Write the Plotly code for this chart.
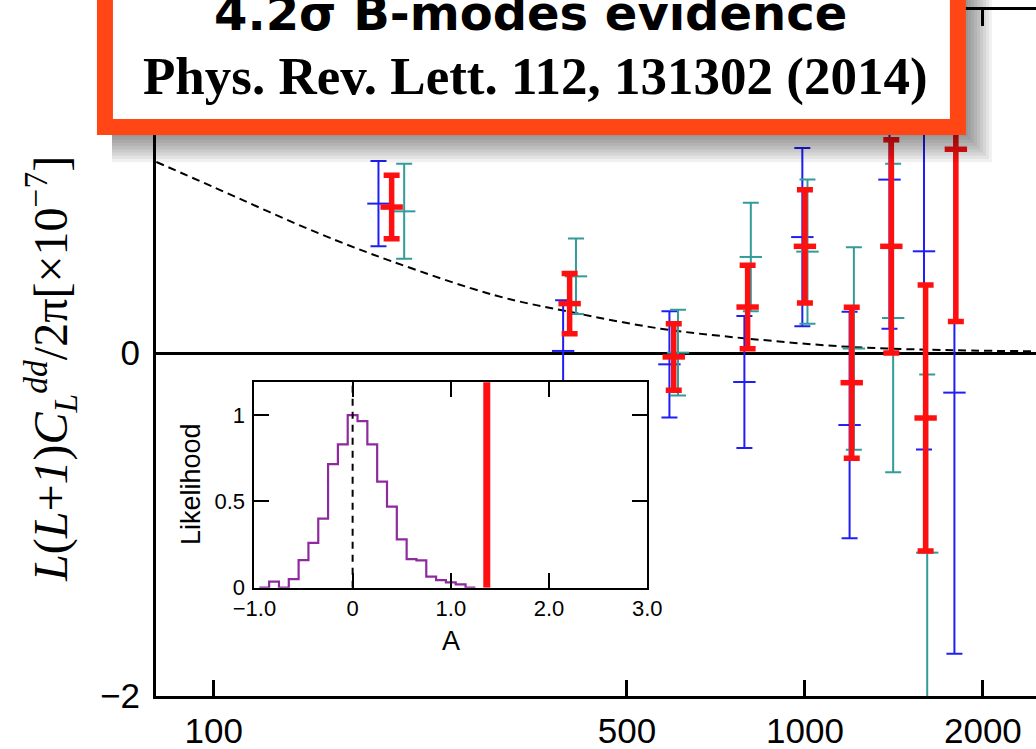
import plotly.graph_objects as go

# ---------------- data ----------------
bin_L = [200, 400, 600, 800, 1000, 1200, 1400, 1600, 1800]

blue_val = [0.871, 0.012, -0.066, -0.169, 0.676, -0.420, 1.011, 0.593, -0.231]
blue_err = [0.249, 0.295, 0.310, 0.385, 0.520, 0.660, 0.869, 1.155, 1.522]

red_val = [0.851, 0.288, -0.023, 0.268, 0.622, -0.173, 0.622, -0.379, 1.188]
red_err = [0.185, 0.176, 0.194, 0.243, 0.330, 0.440, 0.622, 0.775, 1.005]

teal_val = [0.826, 0.447, 0.002, 0.560, 0.591, 0.026, 0.204, -1.164, None]
teal_err = [0.277, 0.220, 0.250, 0.316, 0.420, 0.590, 0.900, 1.038, None]

theory_L = [80, 100, 150, 200, 300, 400, 570, 800, 1200, 1800, 2500]
theory_val = [1.114, 0.967, 0.700, 0.535, 0.335, 0.240, 0.142, 0.084, 0.035, 0.016, 0.010]

hist_A = [-0.9, -0.8, -0.7, -0.6, -0.5, -0.4, -0.3, -0.2, -0.1, 0.0, 0.1, 0.2,
          0.3, 0.4, 0.5, 0.6, 0.7, 0.8, 0.9, 1.0, 1.1, 1.2]
hist_like = [0.0, 0.035, 0.0, 0.05, 0.16, 0.26, 0.40, 0.716, 0.83, 1.0, 0.965, 0.83,
             0.614, 0.469, 0.28, 0.166, 0.158, 0.064, 0.044, 0.031, 0.019, 0.0]
measured_A = 1.366

x_ticks = [100, 500, 1000, 2000]
y_ticks = [-2, 0, 2]
inset_x_ticks = [-1.0, 0.0, 1.0, 2.0, 3.0]
inset_x_text = ["\u22121.0", "0", "1.0", "2.0", "3.0"]
inset_y_ticks = [0, 0.5, 1]
inset_y_text = ["0", "0.5", "1"]

title1 = "4.2\u03c3 B-modes evidence"
title2 = "Phys. Rev. Lett. 112, 131302 (2014)"

# ---------------- layout geometry (page body margin removed by post_script) ----------------
# The plot area continues past the right edge of the window, as in the reference.
W, H = 1052, 749
ML, MT = 156, 10
PLOT_BOTTOM = 696
MB = H - PLOT_BOTTOM
MR = 0
PW = 880          # effective plot-area width observed in the browser
PH = H - MT - MB
X_LEFT_LOG = 1.9025
DECADE_PX = 590.6
X_RIGHT_LOG = X_LEFT_LOG + PW / DECADE_PX


def px2x(px):
    return (px - ML) / PW


def py2y(py):
    return (PLOT_BOTTOM - py) / PH


BLUE = "#1F1FF5"
TEAL = "#339C99"
RED = "#FF1010"
PURPLE = "#8E2A9E"
ORANGE = "#FF4614"

fig = go.Figure()

# theory curve
fig.add_trace(go.Scatter(x=theory_L, y=theory_val, mode="lines",
                         line=dict(color="black", width=2, dash="8px,5px", shape="spline"),
                         hoverinfo="skip", showlegend=False))


def err_trace(xs, ys, es, color, lw):
    return go.Scatter(
        x=xs, y=ys, mode="markers",
        marker=dict(symbol="line-ew", size=16, color=color, line=dict(color=color, width=lw)),
        error_y=dict(type="data", array=es, visible=True, color=color, thickness=lw, width=8),
        showlegend=False, hoverinfo="skip")


fig.add_trace(err_trace([l - 10 for l in bin_L], blue_val, blue_err, BLUE, 2))
fig.add_trace(err_trace([l + 10 for l in bin_L], teal_val, teal_err, TEAL, 2))
fig.add_trace(err_trace(bin_L, red_val, red_err, RED, 5.5))

# inset histogram (step outline)
step_x = [a - 0.05 for a in hist_A] + [hist_A[-1] + 0.05]
step_y = hist_like + [0.0]
fig.add_trace(go.Scatter(x=step_x, y=step_y, mode="lines", line=dict(color=PURPLE, width=2.2, shape="hv"),
                         xaxis="x2", yaxis="y2", showlegend=False, hoverinfo="skip"))
fig.add_trace(go.Scatter(x=[0, 0], y=[0, 1.19], mode="lines", line=dict(color="black", width=2, dash="7px,6px"),
                         xaxis="x2", yaxis="y2", showlegend=False, hoverinfo="skip"))
fig.add_trace(go.Scatter(x=[measured_A, measured_A], y=[0, 1.19], mode="lines", line=dict(color=RED, width=7),
                         xaxis="x2", yaxis="y2", showlegend=False, hoverinfo="skip"))

tickfont_main = dict(family="Liberation Sans, Arial, sans-serif", size=35, color="black")
tickfont_in = dict(family="Liberation Sans, Arial, sans-serif", size=22, color="black")

fig.update_layout(
    width=W, height=H, autosize=False,
    margin=dict(l=ML, r=MR, t=MT, b=MB, pad=0),
    paper_bgcolor="white", plot_bgcolor="white",
    xaxis=dict(type="log", range=[X_LEFT_LOG, X_RIGHT_LOG], domain=[0, 1], automargin=False,
               tickvals=x_ticks, ticktext=[str(v) for v in x_ticks],
               ticks="inside", ticklen=16, tickwidth=2.5, tickcolor="black",
               showline=True, linewidth=3, linecolor="black", mirror="ticks",
               showgrid=False, zeroline=False, tickfont=tickfont_main, ticklabelstandoff=2),
    yaxis=dict(range=[-2, 2], domain=[0, 1], tickvals=y_ticks, automargin=False,
               ticktext=["\u22122", "0", "2"],
               ticks="inside", ticklen=16, tickwidth=2.5, tickcolor="black",
               showline=True, linewidth=3, linecolor="black", mirror=False,
               showgrid=False, zeroline=True, zerolinecolor="black", zerolinewidth=3,
               tickfont=tickfont_main, ticklabelstandoff=6),
    xaxis2=dict(domain=[px2x(254.3), px2x(646.7)], anchor="y2", range=[-1, 3],
                tickvals=inset_x_ticks, ticktext=inset_x_text,
                ticks="inside", ticklen=15, tickwidth=2, tickcolor="black",
                showline=True, linewidth=2, linecolor="black", mirror="ticks",
                showgrid=False, zeroline=False, tickfont=tickfont_in),
    yaxis2=dict(domain=[py2y(587.7), py2y(381.7)], anchor="x2", range=[0, 1.193],
                tickvals=inset_y_ticks, ticktext=inset_y_text,
                ticks="inside", ticklen=15, tickwidth=2, tickcolor="black",
                showline=True, linewidth=2, linecolor="black", mirror="ticks",
                showgrid=False, zeroline=False, tickfont=tickfont_in, ticklabelstandoff=3),
)

annotations = []
# y axis title
annotations.append(dict(
    x=px2x(50), y=py2y(369), xref="paper", yref="paper", showarrow=False,
    textangle=-90, xanchor="center", yanchor="middle",
    text="<i>L</i>(<i>L</i>+<i>1</i>)<i>C</i><sub><i>L</i></sub><sup><i>dd</i></sup>/2\u03c0[\u00d710<sup>\u22127</sup>]",
    font=dict(family="Liberation Serif, Times New Roman, serif", size=48, color="black")))
# inset titles
annotations.append(dict(x=px2x(191), y=py2y(484), xref="paper", yref="paper", showarrow=False,
                        textangle=-90, xanchor="center", yanchor="middle", text="Likelihood",
                        font=dict(family="Liberation Sans, Arial, sans-serif", size=27, color="black")))
annotations.append(dict(x=px2x(451), y=py2y(641), xref="paper", yref="paper", showarrow=False,
                        xanchor="center", yanchor="middle",
                        text="A", font=dict(family="Liberation Sans, Arial, sans-serif", size=27, color="black")))

# title box with shadow
shapes = []
for i in range(1, 12):
    shapes.append(dict(type="rect", xref="paper", yref="paper", layer="above",
                       x0=px2x(112), x1=px2x(958 + 3 * i), y0=py2y(127 + 3.2 * i), y1=py2y(-40),
                       fillcolor="rgba(0,0,0,0.055)", line=dict(width=0)))
shapes.append(dict(type="rect", xref="paper", yref="paper", layer="above",
                   x0=px2x(105), x1=px2x(957), y0=py2y(127), y1=py2y(-40),
                   fillcolor="white", line=dict(color=ORANGE, width=16)))

annotations.append(dict(x=px2x(530), y=py2y(13), xref="paper", yref="paper", showarrow=False,
                        xanchor="center", yanchor="middle", text="<b>" + title1 + "</b>",
                        font=dict(family="DejaVu Sans, Lato, sans-serif", size=48, color="black")))
annotations.append(dict(x=px2x(535), y=py2y(77), xref="paper", yref="paper", showarrow=False,
                        xanchor="center", yanchor="middle", text="<b>" + title2 + "</b>",
                        font=dict(family="Liberation Serif, Times New Roman, serif", size=53, color="black")))

fig.update_layout(shapes=shapes, annotations=annotations)

fig.write_html(
    "out.html",
    config={"displayModeBar": False},
    post_script="document.body.style.margin='0';document.documentElement.style.overflow='hidden';"
                "document.body.style.overflow='hidden';",
)
